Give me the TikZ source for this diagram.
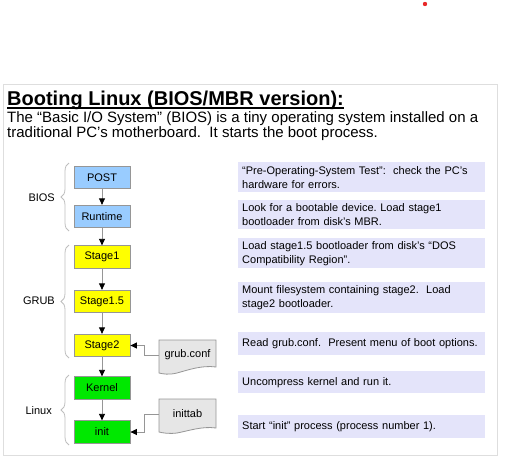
\documentclass[tikz,border=0pt]{standalone}
\usepackage{fontspec}
\setmainfont{Liberation Sans}
\frenchspacing
\usetikzlibrary{arrows.meta,decorations.pathreplacing}
\definecolor{biosblue}{RGB}{153,204,255}
\definecolor{grubyellow}{RGB}{255,255,0}
\definecolor{linuxgreen}{RGB}{0,232,0}
\definecolor{descfill}{RGB}{228,228,250}
\definecolor{docfill}{RGB}{230,230,230}
\definecolor{edgegray}{RGB}{150,150,150}
\definecolor{bracegray}{RGB}{190,190,190}
\definecolor{framegray}{RGB}{222,222,222}
\definecolor{reddot}{RGB}{232,40,40}
\begin{document}
\begin{tikzpicture}[x=1pt,y=-1pt,
  stepbox/.style={draw=edgegray, line width=0.8pt, minimum width=56pt, minimum height=22.5pt, inner sep=0pt, font=\fontsize{11}{13}\selectfont},
  descbox/.style={fill=descfill, anchor=north west, text width=239pt, inner xsep=4pt, inner ysep=2pt, align=left, font=\fontsize{11}{14}\selectfont},
  doctext/.style={minimum width=57pt, minimum height=20pt, inner sep=0pt, font=\fontsize{11}{13}\selectfont},
  docshape/.style={draw=edgegray, line width=0.8pt, fill=docfill},
  conn/.style={draw=edgegray, line width=0.8pt, -{Triangle[length=6.5pt,width=6pt,color=black,fill=black]}},
  bracestyle/.style={draw=bracegray, line width=0.8pt, decorate, decoration={brace, amplitude=8pt}},
  grouplabel/.style={anchor=east, inner sep=0pt, font=\fontsize{11}{13}\selectfont}
]
\useasboundingbox (0,0) rectangle (506,458);
\fill[reddot] (425,4) circle (2.2pt);
\draw[framegray, line width=0.8pt] (3,84) rectangle (497,455);

% title and intro
\node[anchor=base west, inner sep=0pt, font=\fontsize{20}{24}\selectfont\bfseries] (title) at (7,105.5) {Booting Linux (BIOS/MBR version):};
\draw[line width=1.7pt] ([yshift=-2.6pt]title.base west) -- ([yshift=-2.6pt]title.base east);
\node[anchor=base west, inner sep=0pt, font=\fontsize{15}{15}\selectfont] (introa) at (7,122) {The “Basic I/O System” (BIOS) is a tiny operating system installed on a};
\node[anchor=base west, inner sep=0pt, font=\fontsize{15}{15}\selectfont] (introb) at (7,137) {traditional PC's motherboard.\ \ It starts the boot process.};

% step boxes
\node[stepbox, fill=biosblue] (post) at (102,177.5) {POST};
\node[stepbox, fill=biosblue] (runtime) at (102,216.5) {Runtime};
\node[stepbox, fill=grubyellow] (stage1) at (102,257) {Stage1};
\node[stepbox, fill=grubyellow] (stage15) at (102,301.5) {Stage1.5};
\node[stepbox, fill=grubyellow] (stage2) at (102,345.5) {Stage2};
\node[stepbox, fill=linuxgreen] (kernel) at (102,388) {Kernel};
\node[stepbox, fill=linuxgreen] (init) at (102,432) {init};

\draw[conn] (post) -- (runtime);
\draw[conn] (runtime) -- (stage1);
\draw[conn] (stage1) -- (stage15);
\draw[conn] (stage15) -- (stage2);
\draw[conn] (stage2) -- (kernel);
\draw[conn] (kernel) -- (init);

% braces
\draw[bracestyle] (69,231) -- (69,163);
\draw[bracestyle] (69,358) -- (69,245);
\draw[bracestyle] (69,445) -- (69,375);
\node[grouplabel] (lbios) at (55,198) {BIOS};
\node[grouplabel] (lgrub) at (55,301) {GRUB};
\node[grouplabel] (llinux) at (52,411) {Linux};

% documents
\path[docshape] (159,340) -- (216,340) -- (216,367) .. controls (202,365) and (188,370) .. (177,373) .. controls (169,375) and (163,374) .. (159,373) -- cycle;
\node[doctext] (grubconf) at (187.5,355) {grub.conf};
\path[docshape] (159,399) -- (216,399) -- (216,428) .. controls (202,426) and (188,431) .. (177,433) .. controls (169,434) and (163,433) .. (159,432) -- cycle;
\node[doctext] (inittab) at (187.5,414) {inittab};
\draw[conn] (grubconf.west) -- ++(-14,0) |- (stage2.east);
\draw[conn] (inittab.west) -- ++(-14,0) |- (init.east);

% descriptions
\node[descbox, minimum height=30pt] (d1) at (238,162) {“Pre-Operating-System Test”:\ \ check the PC's\\hardware for errors.};
\node[descbox, minimum height=29pt] (d2) at (238,200) {Look for a bootable device. Load stage1\\bootloader from disk's MBR.};
\node[descbox, minimum height=30pt] (d3) at (238,238) {Load stage1.5 bootloader from disk's “DOS\\Compatibility Region”.};
\node[descbox, minimum height=31pt] (d4) at (238,282) {Mount filesystem containing stage2.\ \ Load\\stage2 bootloader.};
\node[descbox, minimum height=23pt] (d5) at (238,332) {Read grub.conf.\ \ Present menu of boot options.};
\node[descbox, minimum height=22pt] (d6) at (238,371) {Uncompress kernel and run it.};
\node[descbox, minimum height=23pt] (d7) at (238,415) {Start “init” process (process number 1).};
\end{tikzpicture}
\end{document}
